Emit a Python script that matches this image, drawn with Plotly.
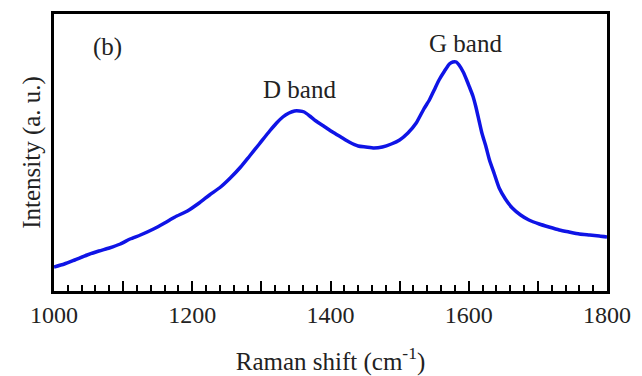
import plotly.graph_objects as go

raman_shift = [1000, 1015, 1030, 1048, 1065, 1080, 1096, 1110, 1125, 1144, 1160, 1175,
               1193, 1210, 1225, 1241, 1255, 1270, 1283, 1297, 1312, 1322, 1331, 1340,
               1348, 1355, 1362, 1370, 1379, 1390, 1403, 1415, 1427, 1440, 1451, 1463,
               1475, 1488, 1500, 1512, 1524, 1535, 1543, 1550, 1557, 1565, 1572, 1577,
               1582, 1586, 1592, 1597, 1601, 1606, 1610, 1615, 1619, 1625, 1630, 1637,
               1644, 1653, 1663, 1675, 1687, 1702, 1716, 1731, 1745, 1760, 1775, 1789, 1800]
intensity = [24, 27, 31, 36, 40, 43, 47, 52, 56, 62, 68, 74,
             80, 88, 96, 104, 113, 124, 135, 147, 160, 168, 174, 178,
             180, 180, 179, 175, 170, 165, 159, 154, 149, 145, 144, 143,
             144, 147, 151, 158, 168, 182, 191, 201, 211, 220, 227, 229,
             229, 226, 219, 211, 204, 195, 185, 170, 158, 144, 131, 117,
             103, 92, 83, 76, 71, 67, 64, 61, 59, 57, 56, 55, 54]

labels = ["(b)", "D band", "G band"]
label_x = [1078, 1355, 1596]
label_y = [244, 202, 248]

font_family = "Liberation Serif, Times New Roman, serif"
text_color = "#222222"

fig = go.Figure()
fig.add_trace(go.Scatter(
    x=raman_shift, y=intensity, mode="lines",
    line=dict(color="rgb(15,20,230)", width=3.5, shape="spline", smoothing=0.6),
    showlegend=False,
))

for t, x, y in zip(labels, label_x, label_y):
    fig.add_annotation(x=x, y=y, text=t, showarrow=False,
                       font=dict(family=font_family, size=25, color=text_color),
                       xanchor="center", yanchor="middle")

fig.update_layout(
    width=642, height=376,
    margin=dict(l=54, r=35, t=14, b=85),
    paper_bgcolor="white", plot_bgcolor="white",
    font=dict(family=font_family, size=24, color=text_color),
)

fig.update_xaxes(
    range=[1000, 1800],
    tick0=1000, dtick=100, ticklabelstep=2,
    ticks="inside", ticklen=10, tickwidth=2, tickcolor="black",
    minor=dict(dtick=20, ticks="inside", ticklen=6, tickwidth=2, tickcolor="black"),
    showline=True, linewidth=3, linecolor="black", mirror=True,
    showgrid=False, zeroline=False, automargin=False,
    tickfont=dict(family=font_family, size=24, color=text_color),
    title=dict(text="Raman shift (cm<sup>-1</sup>)",
               font=dict(family=font_family, size=25, color=text_color),
               standoff=33),
)
fig.update_yaxes(
    range=[0, 277],
    showticklabels=False, ticks="",
    showline=True, linewidth=3, linecolor="black", mirror=True,
    showgrid=False, zeroline=False, automargin=False,
    title=dict(text="Intensity (a. u.)",
               font=dict(family=font_family, size=25, color=text_color),
               standoff=4),
)

fig.write_html("out.html")
